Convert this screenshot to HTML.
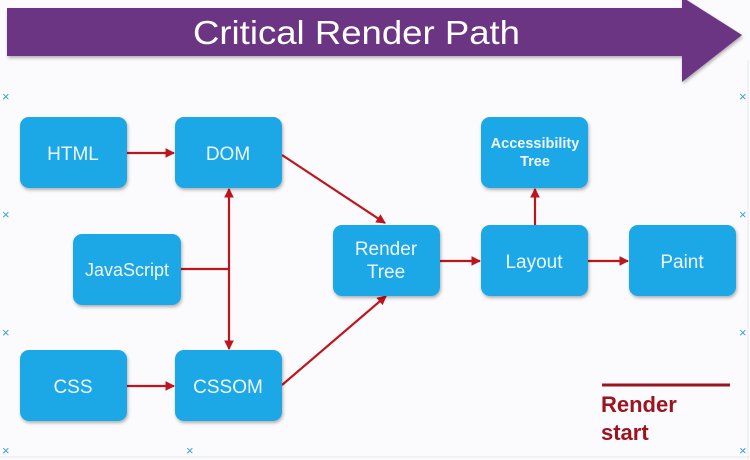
<!DOCTYPE html>
<html><head><meta charset="utf-8"><style>
html,body{margin:0;padding:0;width:750px;height:460px;overflow:hidden;background:#fbfbfd;}
text{font-family:"Liberation Sans",Arial,sans-serif;}
</style></head><body>
<svg width="750" height="460" viewBox="0 0 750 460" xmlns="http://www.w3.org/2000/svg">
<defs>
<marker id="ah" markerWidth="10" markerHeight="10" refX="9" refY="5" orient="auto" markerUnits="userSpaceOnUse">
<path d="M1,1 L9,5 L1,9 Z" fill="#c0141c" stroke="#c0141c" stroke-width="1"/>
</marker>
<filter id="sh" x="-10%" y="-10%" width="130%" height="130%"><feDropShadow dx="1" dy="2" stdDeviation="1.5" flood-color="#000" flood-opacity="0.3"/></filter>
</defs>
<rect width="750" height="460" fill="#fbfbfd"/>
<g stroke="#e6e8ee" stroke-width="1">
<line x1="0" y1="457" x2="750" y2="457"/>
<line x1="748" y1="60" x2="748" y2="460"/>
</g>
<g fill="#3a9fd8" font-size="13">
<text x="2" y="101">×</text><text x="2" y="219">×</text><text x="2" y="337">×</text><text x="2" y="455">×</text>
<text x="739" y="101">×</text><text x="739" y="219">×</text><text x="739" y="337">×</text><text x="739" y="455">×</text>
<text x="186" y="455">×</text>
</g>
<!-- banner -->
<polygon points="7,8 682,8 682,-3 742,35 682,82 682,56 7,56" fill="#6c3483" filter="url(#sh)"/>
<text x="193" y="44" font-size="33" fill="#fff" textLength="327" lengthAdjust="spacingAndGlyphs">Critical Render Path</text>
<!-- connectors -->
<g stroke="#c0141c" stroke-width="2.2" fill="none">
<line x1="127" y1="153" x2="174" y2="153" marker-end="url(#ah)"/>
<line x1="127" y1="386" x2="174" y2="386" marker-end="url(#ah)"/>
<line x1="181" y1="269" x2="229" y2="269"/>
<line x1="229" y1="269" x2="229" y2="189" marker-end="url(#ah)"/>
<line x1="229" y1="269" x2="229" y2="349" marker-end="url(#ah)"/>
<line x1="282" y1="155" x2="385" y2="223" marker-end="url(#ah)"/>
<line x1="282" y1="385" x2="386" y2="296" marker-end="url(#ah)"/>
<line x1="440" y1="261" x2="480" y2="261" marker-end="url(#ah)"/>
<line x1="588" y1="261" x2="628" y2="261" marker-end="url(#ah)"/>
<line x1="535" y1="225" x2="535" y2="189" marker-end="url(#ah)"/>
</g>
<!-- boxes -->
<g fill="#1ba7e6" filter="url(#sh)">
<rect x="20" y="117" width="107" height="71" rx="9"/>
<rect x="175" y="117" width="107" height="71" rx="9"/>
<rect x="73" y="234" width="108" height="71" rx="9"/>
<rect x="20" y="350" width="107" height="71" rx="9"/>
<rect x="175" y="350" width="107" height="71" rx="9"/>
<rect x="333" y="225" width="107" height="71" rx="9"/>
<rect x="481" y="225" width="107" height="71" rx="9"/>
<rect x="481" y="117" width="107" height="71" rx="9"/>
<rect x="629" y="225" width="107" height="71" rx="9"/>
</g>
<g fill="#eef8ff" text-anchor="middle" font-size="19">
<text x="73" y="160">HTML</text>
<text x="228" y="160">DOM</text>
<text x="127" y="276" font-size="18">JavaScript</text>
<text x="73" y="393">CSS</text>
<text x="228" y="393">CSSOM</text>
<text x="386" y="255">Render</text>
<text x="386" y="278">Tree</text>
<text x="534" y="268">Layout</text>
<text x="682" y="268">Paint</text>
<text x="535" y="148" font-size="14.5" font-weight="bold">Accessibility</text>
<text x="535" y="166" font-size="14.5" font-weight="bold">Tree</text>
</g>
<!-- render start -->
<line x1="602" y1="385" x2="730" y2="385" stroke="#9b1520" stroke-width="3"/>
<g fill="#9b1520" font-size="22" font-weight="bold">
<text x="601" y="412">Render</text>
<text x="601" y="440">start</text>
</g>
</svg>
</body></html>
